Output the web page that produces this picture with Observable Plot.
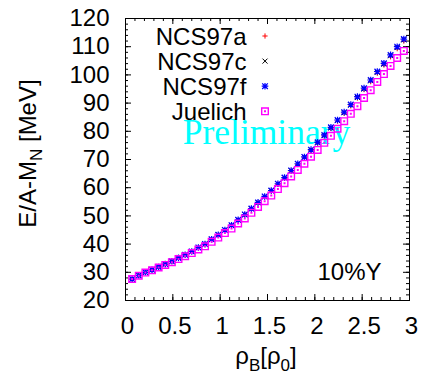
<!DOCTYPE html>
<html><head><meta charset="utf-8">
<script src="https://cdn.jsdelivr.net/npm/d3@7"></script>
<script src="https://cdn.jsdelivr.net/npm/@observablehq/plot@0.6"></script>
<style>body{margin:0;background:#fff}</style>
</head><body><div id="chart"></div>
<script>
// density in units of rho0
const rho = [0.07,0.14,0.21,0.28,0.35,0.42,0.49,0.56,0.63,0.70,0.77,0.84,0.91,0.98,1.05,1.12,1.19,1.26,1.33,1.40,1.47,1.54,1.61,1.68,1.75,1.82,1.89,1.96,2.03,2.10,2.17,2.24,2.31,2.38,2.45,2.52,2.59,2.66,2.73,2.80,2.87,2.94];
const ncs97a = [27.6,28.9,30.0,30.9,31.9,32.9,33.9,35.1,36.2,37.4,38.8,40.0,41.6,43.2,44.9,46.6,48.5,50.4,52.5,54.6,56.7,58.8,61.2,63.4,65.9,68.2,70.6,73.2,75.8,78.4,81.0,83.6,86.4,89.0,91.8,94.8,97.6,100.6,103.5,106.4,109.3,112.0];
const ncs97c = [27.6,28.9,30.0,30.9,31.9,32.9,33.9,35.1,36.2,37.4,38.8,40.0,41.7,43.3,45.0,46.6,48.5,50.4,52.5,54.7,56.8,58.9,61.3,63.5,66.0,68.4,70.8,73.3,75.9,78.5,81.2,83.8,86.6,89.3,92.0,95.0,97.9,100.9,103.8,106.8,109.7,112.4];
const ncs97f = [27.6,28.9,30.0,30.9,31.9,32.9,33.9,35.1,36.2,37.4,38.8,40.0,41.7,43.3,45.0,46.7,48.6,50.5,52.6,54.8,56.9,59.0,61.4,63.6,66.1,68.5,70.9,73.5,76.1,78.7,81.4,84.0,86.8,89.5,92.3,95.3,98.2,101.2,104.1,107.1,110.0,112.7];
const juelich = [27.6,28.8,29.9,30.7,31.7,32.6,33.6,34.7,35.7,36.8,38.1,39.2,40.8,42.3,43.9,45.5,47.3,49.1,51.1,53.2,55.2,57.2,59.5,61.6,64.0,66.3,68.5,71.0,73.4,75.9,78.4,80.9,83.6,86.2,88.9,91.8,94.6,97.5,100.3,103.2,106.0,108.5];

const seriesNames = ["NCS97a","NCS97c","NCS97f","Juelich"];
const xTicks = [0,0.5,1,1.5,2,2.5,3];
const yTicks = [20,30,40,50,60,70,80,90,100,110,120];
const xMinorTicks = d3.range(1,30).map(i => i/10);
const yMinorTicks = d3.range(11,60).map(i => i*2);

// custom gnuplot-like point symbols
const plusSym = {draw(c, s){const h=Math.sqrt(s/Math.PI); c.moveTo(-h,0); c.lineTo(h,0); c.moveTo(0,-h); c.lineTo(0,h);}};
const crossSym = {draw(c, s){const h=Math.sqrt(s/Math.PI); c.moveTo(-h,-h); c.lineTo(h,h); c.moveTo(-h,h); c.lineTo(h,-h);}};
const starSym = {draw(c, s){const h=Math.sqrt(s/Math.PI); c.moveTo(-h,0); c.lineTo(h,0); c.moveTo(0,-h); c.lineTo(0,h); const k=h*0.85; c.moveTo(-k,-k); c.lineTo(k,k); c.moveTo(-k,k); c.lineTo(k,-k);}};
const boxSym = {draw(c, s){const h=Math.sqrt(s/Math.PI); c.rect(-h,-h,2*h,2*h); c.rect(-0.3,-0.3,0.6,0.6);}};

const W = 421, H = 377, ML = 125, MR = 12, MT = 18, MB = 77;
const iW = W - ML - MR, iH = H - MT - MB;

const styles = [
  {symbol: plusSym, stroke: "#ff0000", r: 2.6, strokeWidth: 1},
  {symbol: crossSym, stroke: "#000000", r: 2.5, strokeWidth: 1},
  {symbol: starSym, stroke: "#0000ff", r: 3.3, strokeWidth: 1.2},
  {symbol: boxSym, stroke: "#ff00ff", r: 3.3, strokeWidth: 1.4}
];
const seriesVals = [ncs97a, ncs97c, ncs97f, juelich];

const legendMarks = [];
seriesNames.forEach((name, i) => {
  legendMarks.push(Plot.text([name], {text: d => d, frameAnchor: "top-left", dx: 121, dy: 26 + i*25.3, textAnchor: "end", lineAnchor: "bottom", fontSize: 24, fill: "black"}));
  legendMarks.push(Plot.dot([name], {frameAnchor: "top-left", dx: 139.5, dy: 17.5 + i*25.1, fill: "none", ...styles[i]}));
});

const svg = Plot.plot({
  width: W, height: H,
  marginLeft: ML, marginRight: MR, marginTop: MT, marginBottom: MB,
  style: {fontFamily: "'Liberation Sans', Arial, sans-serif", fontSize: "24px", background: "white", overflow: "visible"},
  x: {domain: [0, 3]},
  y: {domain: [20, 120]},
  marks: [
    Plot.text(["Preliminary"], {text: d => d, frameAnchor: "top-left", dx: 141, dy: 125, textAnchor: "middle", lineAnchor: "bottom", fontSize: 35.5, fontFamily: "'Liberation Serif', 'Times New Roman', serif", fill: "#00ffff"}),
    Plot.text(["10%Y"], {text: d => d, frameAnchor: "bottom-right", dx: -28, dy: -20.5, textAnchor: "end", lineAnchor: "bottom", fontSize: 24, fill: "black"}),
    // ticks (inward, mirrored)
    Plot.ruleX(xTicks, {x: d => d, insetTop: iH - 6, stroke: "black"}),
    Plot.ruleX(xTicks, {x: d => d, insetBottom: iH - 6, stroke: "black"}),
    Plot.ruleX(xMinorTicks, {x: d => d, insetTop: iH - 3, stroke: "black"}),
    Plot.ruleX(xMinorTicks, {x: d => d, insetBottom: iH - 3, stroke: "black"}),
    Plot.ruleY(yTicks, {y: d => d, insetRight: iW - 6, stroke: "black"}),
    Plot.ruleY(yTicks, {y: d => d, insetLeft: iW - 6, stroke: "black"}),
    Plot.ruleY(yMinorTicks, {y: d => d, insetRight: iW - 3, stroke: "black"}),
    Plot.ruleY(yMinorTicks, {y: d => d, insetLeft: iW - 3, stroke: "black"}),
    Plot.axisX({ticks: xTicks, tickSize: 0, tickPadding: 16, fontSize: 24, dx: 2, tickFormat: d => String(d), label: null}),
    Plot.axisY({ticks: yTicks, tickSize: 0, tickPadding: 16, fontSize: 24, tickFormat: d => String(d), label: null}),
    ...seriesVals.map((vals, i) => Plot.dot(vals, {x: rho, y: d => d, fill: "none", ...styles[i]})),
    ...legendMarks,
    Plot.frame({stroke: "black"})
  ]
});

const s = d3.select(svg);
// y axis title with subscript
const yl = s.append("text")
  .attr("transform", "translate(36,153.5) rotate(-90)")
  .attr("text-anchor", "middle")
  .attr("font-size", 24)
  .attr("fill", "black");
yl.append("tspan").text("E/A-M");
yl.append("tspan").attr("font-size", 17).attr("dy", 6).text("N");
yl.append("tspan").attr("dy", -6).text(" [MeV]");
// x axis title with subscripts
const xl = s.append("text")
  .attr("x", 266).attr("y", 364)
  .attr("text-anchor", "middle")
  .attr("font-size", 24)
  .attr("fill", "black");
xl.append("tspan").text("ρ");
xl.append("tspan").attr("font-size", 17).attr("dy", 7).text("B");
xl.append("tspan").attr("dy", -7).text("[ρ");
xl.append("tspan").attr("font-size", 17).attr("dy", 7).text("0");
xl.append("tspan").attr("dy", -7).text("]");

document.getElementById("chart").appendChild(svg);
</script>
</body></html>
